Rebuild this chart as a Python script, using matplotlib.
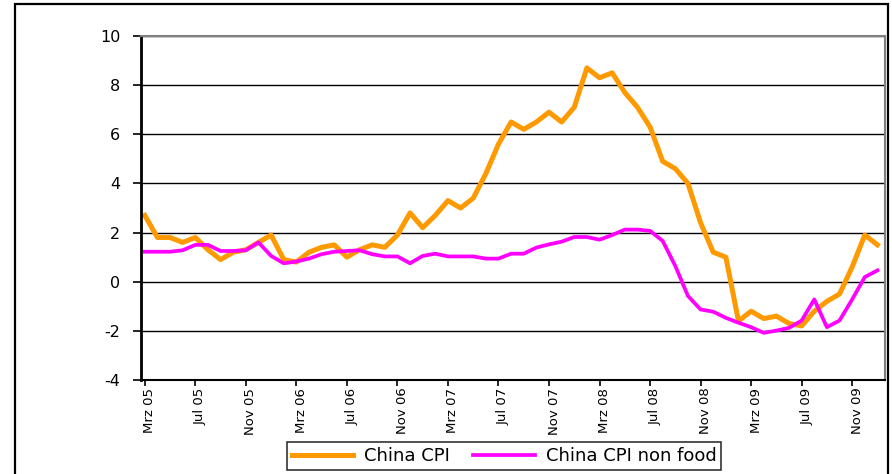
import matplotlib
matplotlib.use("Agg")
import matplotlib.pyplot as plt
from matplotlib.patches import Rectangle
from matplotlib.transforms import ScaledTranslation

plt.rcParams['font.family'] = ['DejaVu Sans']
plt.rcParams['axes.unicode_minus'] = False

# monthly, Mrz 05 .. Jan 10
tick_labels = ["Mrz 05", "Jul 05", "Nov 05", "Mrz 06", "Jul 06", "Nov 06", "Mrz 07",
               "Jul 07", "Nov 07", "Mrz 08", "Jul 08", "Nov 08", "Mrz 09", "Jul 09", "Nov 09"]

cpi = [2.7, 1.8, 1.8, 1.6, 1.8, 1.3, 0.9, 1.2, 1.3, 1.6, 1.9, 0.9, 0.8, 1.2, 1.4,
       1.5, 1.0, 1.3, 1.5, 1.4, 1.9, 2.8, 2.2, 2.7, 3.3, 3.0, 3.4, 4.4, 5.6, 6.5,
       6.2, 6.5, 6.9, 6.5, 7.1, 8.7, 8.3, 8.5, 7.7, 7.1, 6.3, 4.9, 4.6, 4.0, 2.4,
       1.2, 1.0, -1.6, -1.2, -1.5, -1.4, -1.7, -1.8, -1.2, -0.8, -0.5, 0.6, 1.9, 1.5]

cpi_non_food = [1.22, 1.22, 1.22, 1.28, 1.5, 1.5, 1.25, 1.25, 1.28, 1.6, 1.05, 0.75,
                0.82, 0.94, 1.12, 1.22, 1.25, 1.28, 1.12, 1.03, 1.03, 0.75, 1.05, 1.14,
                1.03, 1.03, 1.03, 0.94, 0.94, 1.14, 1.14, 1.39, 1.52, 1.63, 1.82, 1.82,
                1.71, 1.9, 2.12, 2.12, 2.07, 1.66, 0.64, -0.58, -1.13, -1.22, -1.47,
                -1.67, -1.85, -2.08, -1.99, -1.88, -1.58, -0.72, -1.85, -1.58, -0.72,
                0.19, 0.46]

months = list(range(len(cpi)))

fig = plt.figure(figsize=(8.92, 4.74), dpi=100)
ax = fig.add_axes([141 / 892, 94 / 474, 744 / 892, 344 / 474])

# outer frame around the whole chart (bottom edge runs off the image)
fig.patches.append(Rectangle((15 / 892, -10 / 474), 873 / 892, 480 / 474, transform=fig.transFigure,
                             fill=False, edgecolor='black', linewidth=1.6))

ax.plot(months, cpi, color='#FF9900', linewidth=3.6, label='China CPI')
ax.plot(months, cpi_non_food, color='#FF00FF', linewidth=2.7, label='China CPI non food')

ax.set_ylim(-4, 10)
ax.set_yticks(range(-4, 11, 2))
ax.set_xlim(-0.3, 58.6)
ax.set_xticks(range(0, 57, 4))
ax.set_xticklabels(tick_labels, rotation=90, fontsize=9.5)
ax.tick_params(axis='y', labelsize=11.5, length=6, width=1.2, direction='out', pad=9)
ax.tick_params(axis='x', length=4.5, width=1.2, direction='out', pad=1)

# Excel puts the rotated labels a bit right of the tick
shift = ScaledTranslation(5 / 100, 0, fig.dpi_scale_trans)
for lbl in ax.get_xticklabels():
    lbl.set_transform(lbl.get_transform() + shift)

ax.grid(axis='y', color='black', linewidth=1.0)
ax.set_axisbelow(True)
for side in ['top', 'right']:
    ax.spines[side].set_color('#808080')
    ax.spines[side].set_linewidth(1.5)
ax.spines['left'].set_linewidth(2)
ax.spines['bottom'].set_linewidth(1.5)

leg = ax.legend(loc='center', bbox_to_anchor=(504 / 892, 18 / 474),
                bbox_transform=fig.transFigure, ncol=2, frameon=True, fancybox=False,
                edgecolor='black', fontsize=13, handlelength=3.4, columnspacing=1.3,
                borderpad=0.25, borderaxespad=0, handletextpad=0.6)
leg.get_frame().set_linewidth(1.2)

fig.savefig('out.png', dpi=100)
